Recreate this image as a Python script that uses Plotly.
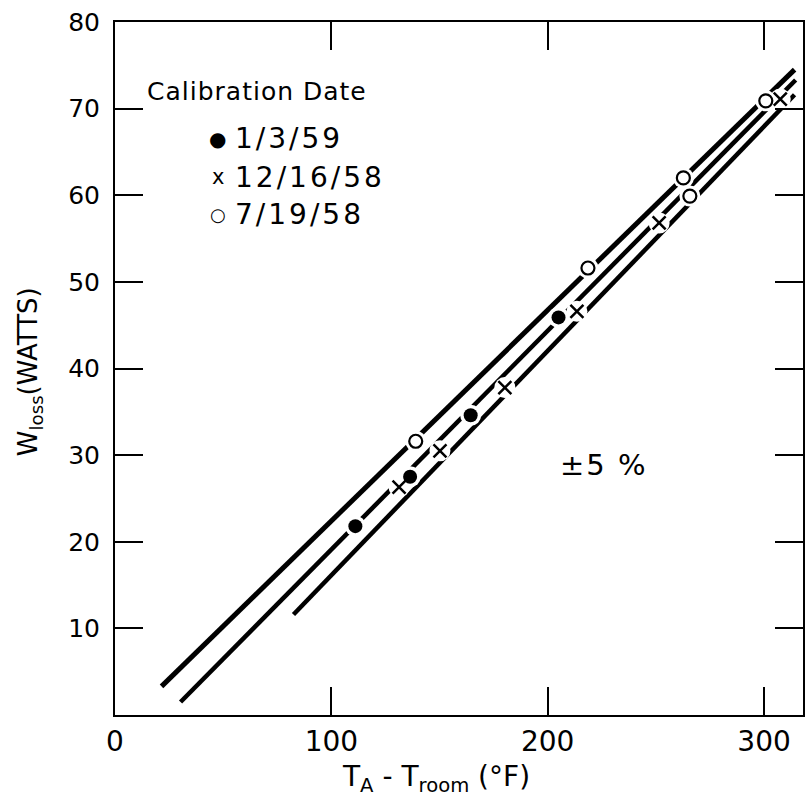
import plotly.graph_objects as go

# ---- data ----
# +/-5% band lines (endpoints)
line_top_x = [21.5, 314.1]
line_top_y = [3.3, 74.5]
line_mid_x = [30.3, 314.6]
line_mid_y = [1.5, 73.3]
line_bot_x = [82.5, 314.1]
line_bot_y = [11.6, 71.6]

# calibration points
cal_1_3_59_x = [111.1, 136.4, 164.4, 205.0]
cal_1_3_59_y = [21.8, 27.5, 34.6, 45.9]
cal_12_16_58_x = [131.3, 150.2, 180.2, 213.5, 251.5, 307.5]
cal_12_16_58_y = [26.3, 30.5, 37.8, 46.6, 56.8, 71.1]
cal_7_19_58_x = [139.0, 218.6, 262.7, 265.7, 300.8]
cal_7_19_58_y = [31.6, 51.6, 62.0, 59.9, 70.9]

x_ticks = [0, 100, 200, 300]
y_ticks = [10, 20, 30, 40, 50, 60, 70, 80]

FONT = "DejaVu Sans"

fig = go.Figure()

for lx, ly, w in [(line_top_x, line_top_y, 5),
                  (line_mid_x, line_mid_y, 4.5),
                  (line_bot_x, line_bot_y, 4.5)]:
    fig.add_trace(go.Scatter(x=lx, y=ly, mode="lines",
                             line=dict(color="black", width=w),
                             showlegend=False, hoverinfo="skip"))

# white halos to break the lines around the markers
all_x = cal_1_3_59_x + cal_12_16_58_x + cal_7_19_58_x
all_y = cal_1_3_59_y + cal_12_16_58_y + cal_7_19_58_y
fig.add_trace(go.Scatter(x=all_x, y=all_y, mode="markers",
                         marker=dict(symbol="circle", size=21, color="white"),
                         showlegend=False, hoverinfo="skip"))

fig.add_trace(go.Scatter(x=cal_1_3_59_x, y=cal_1_3_59_y, mode="markers",
                         name="1/3/59",
                         marker=dict(symbol="circle", size=14, color="black"),
                         showlegend=False))
fig.add_trace(go.Scatter(x=cal_12_16_58_x, y=cal_12_16_58_y, mode="markers",
                         name="12/16/58",
                         marker=dict(symbol="x-thin-open", size=13, color="black",
                                     line=dict(color="black", width=2.5)),
                         showlegend=False))
fig.add_trace(go.Scatter(x=cal_7_19_58_x, y=cal_7_19_58_y, mode="markers",
                         name="7/19/58",
                         marker=dict(symbol="circle-open", size=13, color="black",
                                     line=dict(color="black", width=2.2)),
                         showlegend=False))

SP = "<span style='letter-spacing:3px'>{}</span>"
annotations = [
    dict(text="<span style='letter-spacing:1px'>Calibration Date</span>", x=145, y=92,
         xanchor="left", yanchor="middle", font=dict(size=25)),
    dict(text="●", x=218, y=139, xanchor="center", yanchor="middle", font=dict(size=20)),
    dict(text=SP.format("1/3/59"), x=233, y=139, xanchor="left", yanchor="middle",
         font=dict(size=28)),
    dict(text="x", x=218, y=177, xanchor="center", yanchor="middle", font=dict(size=21)),
    dict(text=SP.format("12/16/58"), x=233, y=177, xanchor="left", yanchor="middle",
         font=dict(size=28)),
    dict(text="○", x=218, y=214, xanchor="center", yanchor="middle", font=dict(size=18)),
    dict(text=SP.format("7/19/58"), x=233, y=214, xanchor="left", yanchor="middle",
         font=dict(size=28)),
    dict(text="<span style='letter-spacing:2px'>±5 %</span>", x=605, y=465,
         xanchor="center", yanchor="middle", font=dict(size=29)),
    dict(text="T<sub>A</sub> - T<sub>room</sub> (°F)", x=437, y=778,
         xanchor="center", yanchor="middle", font=dict(size=28)),
    dict(text="W<sub>loss</sub>(WATTS)", x=30, y=372, textangle=-90,
         xanchor="center", yanchor="middle", font=dict(size=26)),
]
for a in annotations:
    a.update(xref="paper", yref="paper", showarrow=False)
    a["font"] = dict(family=FONT, color="black", size=a["font"]["size"])

# convert pixel-placed annotations to paper coordinates
W, H = 808, 804
L, R, T, B = 115, 3, 22, 89
pw, ph = W - L - R, H - T - B
for a in annotations:
    a["x"] = (a["x"] - L) / pw
    a["y"] = (H - B - a["y"]) / ph

fig.update_layout(
    width=W, height=H,
    margin=dict(l=L, r=R, t=T, b=B),
    paper_bgcolor="white", plot_bgcolor="white",
    font=dict(family=FONT, color="black"),
    annotations=annotations,
    showlegend=False,
)
fig.update_xaxes(range=[0, 318], tickvals=x_ticks, ticktext=[str(v) for v in x_ticks],
                 showgrid=False, zeroline=False, showline=True, linecolor="black",
                 linewidth=2, mirror="ticks", ticks="inside", ticklen=28,
                 tickwidth=1.5, tickcolor="black", tickfont=dict(size=28, family=FONT))
fig.update_yaxes(range=[0, 80], tickvals=y_ticks, ticktext=[str(v) for v in y_ticks],
                 showgrid=False, zeroline=False, showline=True, linecolor="black",
                 linewidth=2, mirror="ticks", ticks="inside", ticklen=28,
                 tickwidth=1.5, tickcolor="black", tickfont=dict(size=25, family=FONT),
                 ticklabelstandoff=8)

fig.write_html("out.html")
